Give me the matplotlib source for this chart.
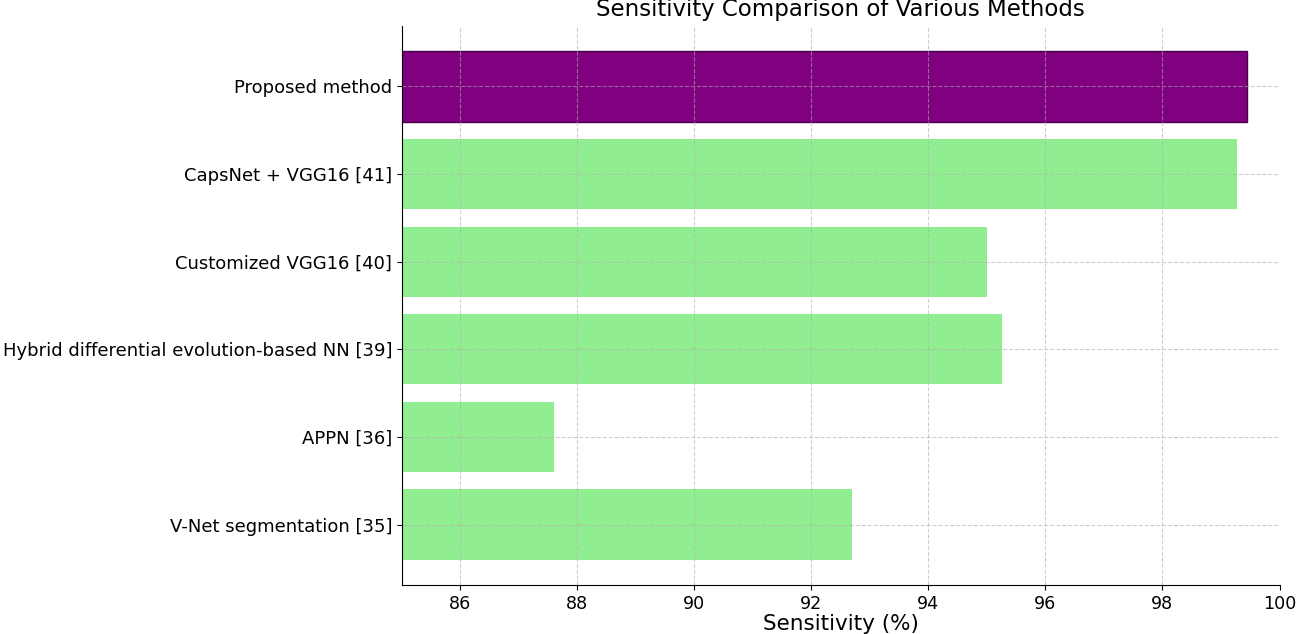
import matplotlib
matplotlib.use("Agg")
import matplotlib.pyplot as plt

methods = [
    "V-Net segmentation [35]",
    "APPN [36]",
    "Hybrid differential evolution-based NN [39]",
    "Customized VGG16 [40]",
    "CapsNet + VGG16 [41]",
    "Proposed method",
]
sensitivity = [92.7, 87.6, 95.25, 95.0, 99.27, 99.45]
colors = ["lightgreen"] * 5 + ["purple"]
xticks = [86, 88, 90, 92, 94, 96, 98, 100]

plt.rcParams["font.family"] = ["DejaVu Sans"]

W, H = 1299, 634
fig = plt.figure(figsize=(W / 100, H / 100), dpi=100)
left, right, top, bottom = 401.8, 1279.5, 26, 585
ax = fig.add_axes([left / W, 1 - bottom / H, (right - left) / W, (bottom - top) / H])

bars = ax.barh(methods, sensitivity, color=colors, height=0.8)
bars[-1].set_edgecolor("#4a004a")
bars[-1].set_linewidth(1.0)

ax.set_xlim(85, 100)
ax.set_xticks(xticks)
ax.set_xticklabels([str(t) for t in xticks])
ax.grid(True, linestyle="--", alpha=0.6)
ax.spines["top"].set_visible(False)
ax.spines["right"].set_visible(False)
ax.tick_params(axis="x", labelsize=12.6)
ax.tick_params(axis="y", labelsize=13)
ax.set_xlabel("Sensitivity (%)", fontsize=15.5, labelpad=1)
ax.set_title("Sensitivity Comparison of Various Methods", fontsize=16.5, pad=7)

fig.savefig("out.png", dpi=100)
